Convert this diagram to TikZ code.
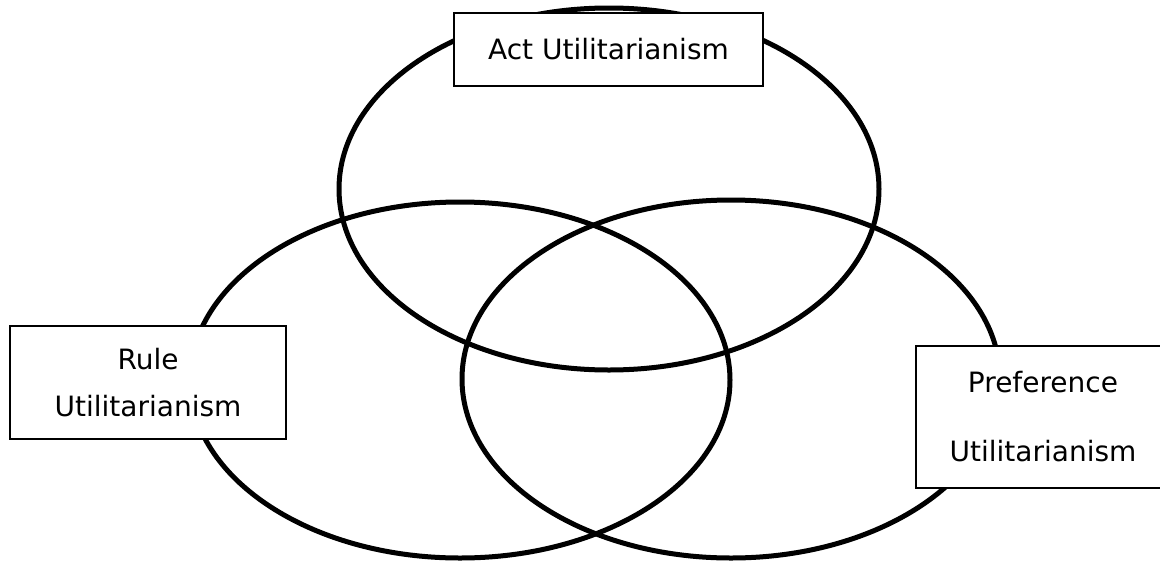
\documentclass[tikz,border=0pt]{standalone}
\usepackage{fontspec}
\setmainfont{DejaVu Sans}

\begin{document}
\begin{tikzpicture}[
  x=1pt, y=-1pt,
  every node/.style={font=\fontsize{28}{34}\selectfont},
  ring/.style={line width=5pt},
  namebox/.style={draw, fill=white, line width=2pt, align=center, inner sep=0pt}
]
  \useasboundingbox (0,0) rectangle (1160,560);

  % The three ellipses
  \draw[ring] (609,189) ellipse [x radius=270, y radius=181];
  \draw[ring] (460,380) ellipse [x radius=270, y radius=178];
  \draw[ring] (731,379) ellipse [x radius=269, y radius=179];

  % Label boxes
  \node[namebox, minimum width=309pt, minimum height=73pt] (act) at (608.5,49.5) {Act Utilitarianism};
  \node[namebox, minimum width=276pt, minimum height=113pt] (rule) at (148,382.5) {Rule\\[13pt]Utilitarianism};
  \node[namebox, minimum width=254pt, minimum height=142pt] (pref) at (1043,417) {Preference\\[35pt]Utilitarianism};
\end{tikzpicture}
\end{document}
